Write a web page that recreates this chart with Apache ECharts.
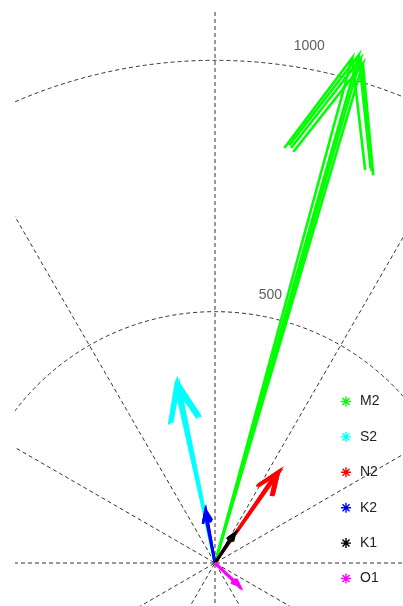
<!DOCTYPE html>
<html>
<head>
<meta charset="utf-8">
<title>Tidal constituents compass</title>
<script src="https://cdn.jsdelivr.net/npm/echarts@6/dist/echarts.min.js"></script>
<style>
  html, body { margin: 0; padding: 0; background: #fff; }
  #chart { width: 403px; height: 606px; }
</style>
</head>
<body>
<div id="chart"></div>
<script>
// Constituent names, in drawing order
const constituents = ['M2', 'S2', 'N2', 'K2', 'K1', 'O1'];

// Amplitude and phase (degrees, counter-clockwise from east) of each vector
const m2Amp   = [1041, 1050, 1044, 1036];
const m2Phase = [74.8, 74.2, 73.9, 73.5];
const s2Amp   = [361, 365, 368, 363];
const s2Phase = [102.6, 102.1, 101.7, 101.3];
const n2Amp   = [216, 220, 223, 219];
const n2Phase = [55.9, 55.5, 55.1, 54.7];
const k2Amp   = [101, 104, 106];
const k2Phase = [101.5, 100.5, 99.8];
const k1Amp   = [66, 68, 70];
const k1Phase = [58.0, 57.0, 56.0];
const o1Amp   = [62, 64, 66];
const o1Phase = [315.5, 316.5, 317.5];

// Ring values and their labels
const ringTicks  = [500, 1000, 1500];
const ringLabels = ['500', '1000', '1500'];

const vectors = {
  M2: [m2Amp, m2Phase],
  S2: [s2Amp, s2Phase],
  N2: [n2Amp, n2Phase],
  K2: [k2Amp, k2Phase],
  K1: [k1Amp, k1Phase],
  O1: [o1Amp, o1Phase]
};

const palette = {
  M2: '#00ff00', S2: '#00ffff', N2: '#ff0000',
  K2: '#0000ff', K1: '#000000', O1: '#ff00ff'
};

// compass-style arrow: shaft to the tip, then two barbs at 0.8*z +/- 0.08*i*z
const HEAD_R = Math.hypot(0.8, 0.08);
const HEAD_A = Math.atan2(0.08, 0.8) * 180 / Math.PI;
function arrowPath(amp, phase) {
  return [
    [0, phase],
    [amp, phase],
    [amp * HEAD_R, phase + HEAD_A],
    [amp, phase],
    [amp * HEAD_R, phase - HEAD_A]
  ];
}

const series = [];
constituents.forEach(function (name) {
  const amps = vectors[name][0];
  const phases = vectors[name][1];
  amps.forEach(function (a, i) {
    series.push({
      name: name,
      type: 'line',
      coordinateSystem: 'polar',
      data: arrowPath(a, phases[i]),
      symbol: 'none',
      showSymbol: false,
      clip: false,
      silent: true,
      color: palette[name],
      lineStyle: { color: palette[name], width: 2.6, join: 'miter', cap: 'butt' },
      z: 3
    });
  });
});

// ring labels sit just outside each ring at 82 degrees
const ringStep = ringTicks[1] - ringTicks[0];
series.push({
  name: 'rings',
  type: 'scatter',
  coordinateSystem: 'polar',
  symbolSize: 0,
  silent: true,
  data: ringTicks.map(function (t, i) {
    return { value: [t + ringStep / 20, 82], name: ringLabels[i] };
  }),
  label: {
    show: true,
    formatter: '{b}',
    position: [7, 0],
    align: 'left',
    verticalAlign: 'bottom',
    fontFamily: 'Liberation Sans, Arial, sans-serif',
    fontSize: 14,
    color: '#333'
  },
  z: 2
});

// asterisk marker for the legend
const starIcon = 'path://M4.3 0H5.7V10H4.3Z M0 4.3H10V5.7H0Z ' +
  'M1 2L2 1L9 8L8 9Z M8 1L9 2L2 9L1 8Z';

const gridLine = { show: true, lineStyle: { color: '#333', width: 1, type: [4, 3] } };

const chart = echarts.init(document.getElementById('chart'), null, { renderer: 'canvas' });
chart.setOption({
  animation: false,
  backgroundColor: '#fff',
  polar: { center: [215, 563], radius: 754 },
  angleAxis: {
    type: 'value',
    min: 0,
    max: 360,
    interval: 30,
    startAngle: 0,
    clockwise: false,
    axisLine: { show: false },
    axisTick: { show: false },
    axisLabel: { show: false },
    splitLine: gridLine
  },
  radiusAxis: {
    type: 'value',
    min: 0,
    max: ringTicks[ringTicks.length - 1],
    interval: ringStep,
    axisLine: { show: false },
    axisTick: { show: false },
    axisLabel: { show: false },
    splitLine: gridLine
  },
  legend: {
    data: constituents,
    orient: 'vertical',
    left: 336,
    top: 389,
    icon: starIcon,
    itemWidth: 10,
    itemHeight: 10,
    itemGap: 20.4,
    selectedMode: false,
    textStyle: {
      fontFamily: 'Liberation Sans, Arial, sans-serif',
      fontSize: 14,
      lineHeight: 15,
      color: '#222',
      padding: [0, 0, 0, 4]
    }
  },
  graphic: [
    { type: 'rect', left: 0, top: 0, shape: { width: 15, height: 606 }, style: { fill: '#fff' }, z: 100, silent: true },
    { type: 'rect', left: 0, top: 0, shape: { width: 403, height: 12 }, style: { fill: '#fff' }, z: 100, silent: true }
  ],
  series: series
});
</script>
</body>
</html>
